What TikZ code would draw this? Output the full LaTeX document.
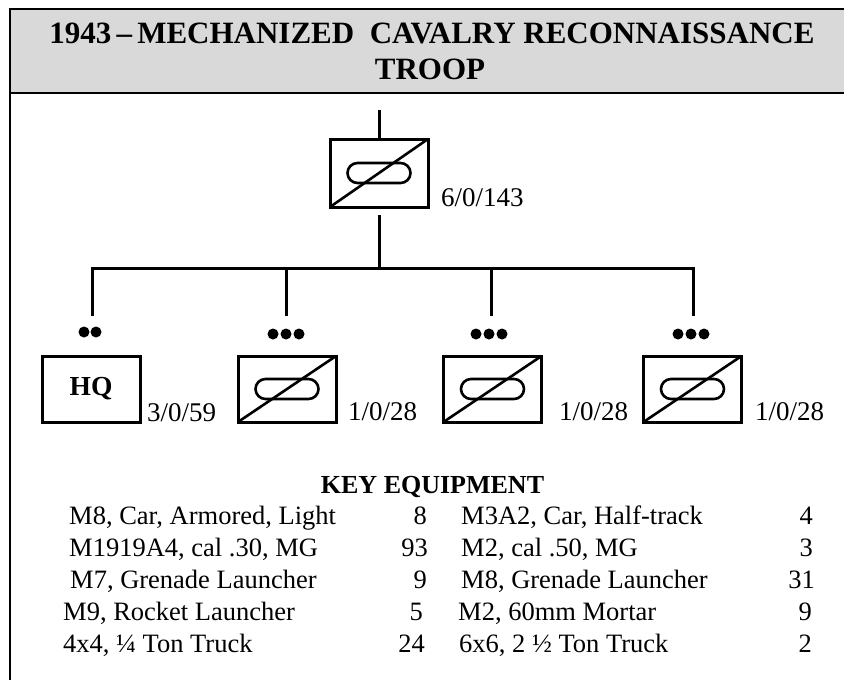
\documentclass[tikz,border=0pt]{standalone}
\usepackage{fontspec}
\setmainfont{Liberation Serif}
\definecolor{hdrgray}{HTML}{D9D9D9}
\begin{document}
\begin{tikzpicture}[x=1pt,y=-1pt,
  unitbox/.style={draw,line width=3pt,rectangle,inner sep=0pt,outer sep=0pt,minimum width=98pt,minimum height=66pt},
  conn/.style={line width=3pt},
  diag/.style={line width=2.6pt},
  oval/.style={line width=2.6pt,rounded corners=10pt},
  lbl/.style={anchor=base west,inner sep=0pt,font=\fontsize{27}{30}\selectfont},
  row/.style={anchor=base west,inner sep=0pt,font=\fontsize{26.5}{30}\selectfont},
  num/.style={anchor=base east,inner sep=0pt,font=\fontsize{26.5}{30}\selectfont},
  ttl/.style={anchor=base,inner sep=0pt,font=\fontsize{31}{36}\selectfont\bfseries},
  dot/.style={circle,fill=black,inner sep=0pt,minimum size=11pt}]
\useasboundingbox (0,0) rectangle (844,680);
% frame and header
\fill[hdrgray] (10,9) rectangle (844,93);
\draw[line width=2pt] (844,9) -- (10,9) -- (10,680);
\draw[line width=2.5pt] (10,93) -- (844,93);
\node[ttl] (t1) at (432,43) {1943\,--\,MECHANIZED\ \ CAVALRY RECONNAISSANCE};
\node[ttl] (t2) at (430,79) {TROOP};
% units
\node[unitbox,minimum height=68pt] (top) at (379,173) {};
\node[unitbox] (hq) at (91,389) {\fontsize{27.5}{30}\selectfont\bfseries HQ};
\node[unitbox] (p1) at (287,389) {};
\node[unitbox] (p2) at (492.5,389) {};
\node[unitbox] (p3) at (692.5,389) {};
\foreach \n in {top,p1,p2,p3}{
  \draw[oval] ([shift={(-31.5pt,-10pt)}]\n.center) rectangle ([shift={(31.5pt,10pt)}]\n.center);
  \draw[diag] (\n.south west) -- (\n.north east);
}
% labels
\node[lbl] (ltop) at (441,206) {6/0/143};
\node[lbl] (lhq) at (147,421) {3/0/59};
\node[lbl] (lp1) at (348,420) {1/0/28};
\node[lbl] (lp2) at (559,420) {1/0/28};
\node[lbl] (lp3) at (755,420) {1/0/28};
% echelon dots
\node[dot] (hqa) at (84,332) {};
\node[dot] (hqb) at (96,332) {};
\foreach \n/\x in {p1/286,p2/489,p3/691}{
  \node[dot] (\n a) at (\x-13,334) {};
  \node[dot] (\n b) at (\x,334) {};
  \node[dot] (\n c) at (\x+13,334) {};
}
% connectors
\coordinate (in) at (379,110);
\coordinate (out) at (379,215);
\coordinate (bus) at (379,268);
\coordinate (bl) at (92,268);
\coordinate (br) at (693,268);
\coordinate (b1) at (286,268);
\coordinate (b2) at (491,268);
\coordinate (e0) at (92,316);
\coordinate (e1) at (286,316);
\coordinate (e2) at (491,316);
\coordinate (e3) at (693,316);
\draw[conn] (in) -- (top.north);
\draw[conn] (out) -- (bus);
\draw[conn] ([xshift=-1.5pt]bl) -- ([xshift=1.5pt]br);
\draw[conn] (bl) -- (e0);
\draw[conn] (b1) -- (e1);
\draw[conn] (b2) -- (e2);
\draw[conn] (br) -- (e3);
% key equipment
\node[anchor=base,inner sep=0pt,font=\fontsize{26}{30}\selectfont\bfseries] (key) at (432.5,493) {KEY EQUIPMENT};
\node[row] (a1) at (69,524) {M8, Car, Armored, Light};
\node[num] (n1) at (427,524) {8};
\node[row] (a2) at (69,556) {M1919A4, cal .30, MG};
\node[num] (n2) at (428,556) {93};
\node[row] (a3) at (70,588) {M7, Grenade Launcher};
\node[num] (n3) at (427,588) {9};
\node[row] (a4) at (63,620) {M9, Rocket Launcher};
\node[num] (n4) at (423,620) {5};
\node[row] (a5) at (63,652) {4x4, ¼ Ton Truck};
\node[num] (n5) at (425,652) {24};
\node[row] (b1t) at (461,524) {M3A2, Car, Half-track};
\node[num] (m1) at (813,524) {4};
\node[row] (b2t) at (461,556) {M2, cal .50, MG};
\node[num] (m2) at (813,556) {3};
\node[row] (b3t) at (461,588) {M8, Grenade Launcher};
\node[num] (m3) at (815,588) {31};
\node[row] (b4t) at (458,620) {M2, 60mm Mortar};
\node[num] (m4) at (812,620) {9};
\node[row] (b5t) at (459,652) {6x6, 2 ½ Ton Truck};
\node[num] (m5) at (812,652) {2};
\end{tikzpicture}
\end{document}
